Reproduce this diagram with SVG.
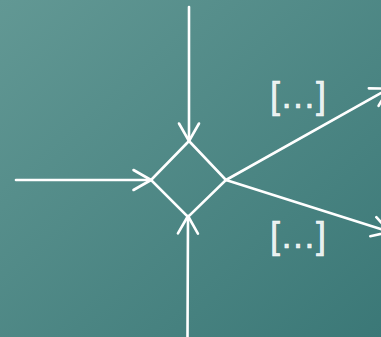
<svg xmlns="http://www.w3.org/2000/svg" width="381" height="337" viewBox="0 0 381 337">
<defs>
<linearGradient id="bg" x1="0" y1="0" x2="1" y2="1">
<stop offset="0" stop-color="#629894"/>
<stop offset="1" stop-color="#3b7877"/>
</linearGradient>
<marker id="arr" markerUnits="userSpaceOnUse" markerWidth="40" markerHeight="40" refX="0" refY="0" viewBox="-20 -20 40 40" orient="auto" overflow="visible">
<path d="M-17.5,-10 L0,0 L-17.5,10" fill="none" stroke="#ffffff" stroke-width="2.6" stroke-linecap="round" stroke-linejoin="round"/>
</marker>
<style>
.ln{fill:none;stroke:#ffffff;stroke-width:2.6;stroke-linecap:round}
.lbl{font-family:"Liberation Sans",Arial,sans-serif;font-size:36px;fill:#ffffff;fill-opacity:0.9;stroke:#ffffff;stroke-opacity:0.9;stroke-width:0.6;text-anchor:middle}
</style>
</defs>
<rect x="0" y="0" width="381" height="337" fill="url(#bg)"/>
<g id="connectors">
<line class="ln" x1="189" y1="7" x2="189" y2="141" marker-end="url(#arr)"/>
<line class="ln" x1="16" y1="180" x2="151" y2="180" marker-end="url(#arr)"/>
<line class="ln" x1="187.5" y1="340" x2="188" y2="216" marker-end="url(#arr)"/>
<line class="ln" x1="226" y1="180" x2="389" y2="88.5" marker-end="url(#arr)"/>
<line class="ln" x1="226" y1="180" x2="390" y2="232" marker-end="url(#arr)"/>
</g>
<g id="decision">
<polygon points="189,141 226,180 188,217 151,180" fill="none" stroke="#ffffff" stroke-width="2.6" stroke-linejoin="miter"/>
</g>
<g id="label-top">
<text class="lbl" x="298" y="108">[…]</text>
</g>
<g id="label-bottom">
<text class="lbl" x="298" y="248">[…]</text>
</g>
</svg>
